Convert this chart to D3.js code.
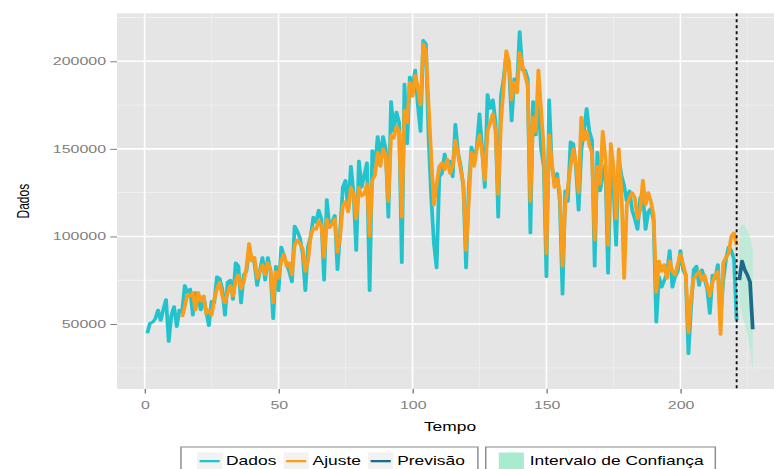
<!DOCTYPE html>
<html>
<head>
<meta charset="utf-8">
<script src="https://cdn.jsdelivr.net/npm/d3@7"></script>
<style>
  body { margin: 0; background: #fff; }
  svg { display: block; }
</style>
</head>
<body>
<script>
// observed series (Tempo 1..221)
const dados = [
  44700, 50500, 51000, 53000, 58000, 52000, 58500, 64000, 40000, 55000,
  60000, 48500, 58000, 57000, 72000, 68000, 70000, 55000, 68000, 65000,
  58000, 66000, 57000, 49000, 63000, 62000, 77000, 76000, 70000, 55000,
  74000, 75000, 64000, 85000, 83000, 62000, 78000, 80000, 92000, 88000,
  85000, 72000, 80000, 88000, 75000, 88000, 80000, 53000, 83000, 69000,
  94000, 89000, 84000, 80000, 74000, 106000, 103000, 99000, 90000, 69000,
  94000, 100000, 111000, 108000, 115000, 110000, 75000, 121000, 105000, 108000,
  112000, 81000, 103000, 128000, 132000, 115000, 140000, 125000, 92000, 143000,
  128000, 135000, 142000, 69000, 149000, 140000, 157000, 145000, 157000, 150000,
  111000, 177000, 160000, 171000, 165000, 85000, 187000, 153000, 191000, 185000,
  195000, 175000, 160000, 212000, 210000, 157000, 122000, 96000, 82000, 134000,
  136000, 147000, 140000, 143000, 134000, 164000, 148000, 140000, 128000, 82000,
  128000, 151000, 145000, 151000, 170000, 150000, 128000, 181000, 173000, 178000,
  165000, 111000, 180000, 190000, 204000, 198000, 166000, 190000, 185000, 217000,
  195000, 195000, 190000, 102000, 177000, 158000, 179000, 150000, 140000, 77000,
  178000, 140000, 132000, 136000, 120000, 67000, 126000, 120000, 154000, 153000,
  140000, 115000, 149000, 160000, 173000, 160000, 155000, 83000, 148000, 126000,
  135000, 141000, 79000, 140000, 130000, 95000, 144000, 135000, 129000, 120000,
  126000, 115000, 110000, 104000, 122000, 124000, 104000, 114000, 116000, 109000,
  51000, 77000, 71000, 75000, 79000, 92000, 71000, 77000, 80000, 92000,
  81000, 78000, 33000, 60000, 81000, 83000, 72000, 81000, 76000, 70000,
  56000, 78000, 76000, 84000, 54000, 75000, 87000, 94000, 92000, 87000,
  52000
];

// fitted values (Tempo 14..221)
const ajusteInicio = 14;
const ajuste = [
  54000, 60000, 67000, 66000, 68000, 58000, 68000,
  63000, 66000, 56000, 58000, 55000, 64000, 70000, 74000, 66000, 62000,
  68000, 72000, 66000, 75000, 78000, 70000, 74000, 82000, 96000, 86000,
  88000, 76000, 80000, 84000, 78000, 85000, 81000, 62000, 80000, 76000,
  86000, 90000, 83000, 85000, 78000, 95000, 98000, 96000, 93000, 80000,
  86000, 100000, 105000, 104000, 109000, 106000, 88000, 110000, 105000, 107000,
  110000, 91000, 100000, 118000, 120000, 114000, 128000, 124000, 110000, 128000,
  123000, 124000, 130000, 100000, 132000, 135000, 148000, 140000, 150000, 146000,
  120000, 158000, 156000, 163000, 160000, 111000, 172000, 165000, 188000, 180000,
  192000, 185000, 175000, 210000, 206000, 175000, 145000, 118000, 130000, 140000,
  142000, 138000, 144000, 136000, 140000, 155000, 147000, 138000, 130000, 92000,
  120000, 148000, 140000, 150000, 158000, 148000, 132000, 160000, 165000, 170000,
  160000, 124000, 165000, 185000, 206000, 200000, 178000, 188000, 182000, 205000,
  198000, 192000, 186000, 120000, 168000, 160000, 195000, 172000, 150000, 90000,
  158000, 142000, 128000, 133000, 125000, 83000, 118000, 128000, 140000, 150000,
  142000, 125000, 168000, 155000, 160000, 152000, 148000, 98000, 140000, 130000,
  160000, 145000, 95000, 153000, 140000, 110000, 150000, 125000, 76000, 118000,
  122000, 125000, 122000, 110000, 115000, 132000, 118000, 125000, 120000, 112000,
  68000, 86000, 80000, 84000, 76000, 86000, 80000, 78000, 84000, 90000,
  84000, 78000, 45000, 65000, 76000, 78000, 80000, 75000, 78000, 72000,
  66000, 74000, 78000, 80000, 44000, 85000, 88000, 90000, 100000, 102000,
  95000
];

// forecast and confidence band
const prevTempo = [222, 223, 224, 225, 226, 227];
const previsao  = [75000, 86000, 81000, 78000, 74000, 47000];
const icInf     = [62000, 56000, 50000, 44000, 36000, 23000];
const icSup     = [104000, 107000, 106000, 104000, 100000, 93000];
const corte = 221;

const xTicks = [0, 50, 100, 150, 200];
const xMinor = [25, 75, 125, 175, 225];
const yTicks = [50000, 100000, 150000, 200000];
const yMinor = [25000, 75000, 125000, 175000, 225000];

const series = [
  { nome: "Dados", cor: "#22c3cc" },
  { nome: "Ajuste", cor: "#f89d1c" },
  { nome: "Previsão", cor: "#1d6b8a" }
];
const corIC = "#a8ebcf";

// the picture is horizontally stretched, so draw in narrow units and scale
const W = 774, H = 469, SX = 1.45;
const font = "'Liberation Sans', Arial, Helvetica, sans-serif";
const panel = { left: 80.7, right: 540, top: 13.3, bottom: 389 };

const svg = d3.select("body").append("svg")
  .attr("width", W).attr("height", H);
const root = svg.append("g").attr("transform", `scale(${SX},1)`);

const x = d3.scaleLinear().domain([-10.3, 238.3]).range([panel.left, panel.right]);
const y = d3.scaleLinear().domain([12900, 227400]).range([panel.bottom, panel.top]);

root.append("clipPath").attr("id", "clip")
  .append("rect")
  .attr("x", panel.left).attr("y", panel.top)
  .attr("width", panel.right - panel.left)
  .attr("height", panel.bottom - panel.top);

// panel background
root.append("rect")
  .attr("x", panel.left).attr("y", panel.top)
  .attr("width", panel.right - panel.left)
  .attr("height", panel.bottom - panel.top)
  .attr("fill", "#e5e5e5");

const grid = root.append("g").attr("clip-path", "url(#clip)");
grid.selectAll(".xminor").data(xMinor).join("line")
  .attr("x1", d => x(d)).attr("x2", d => x(d))
  .attr("y1", panel.top).attr("y2", panel.bottom)
  .attr("stroke", "#f2f2f2").attr("stroke-width", 0.5);
grid.selectAll(".yminor").data(yMinor).join("line")
  .attr("x1", panel.left).attr("x2", panel.right)
  .attr("y1", d => y(d)).attr("y2", d => y(d))
  .attr("stroke", "#f2f2f2").attr("stroke-width", 0.8);
grid.selectAll(".xmajor").data(xTicks).join("line")
  .attr("x1", d => x(d)).attr("x2", d => x(d))
  .attr("y1", panel.top).attr("y2", panel.bottom)
  .attr("stroke", "#fff").attr("stroke-width", 1.1);
grid.selectAll(".ymajor").data(yTicks).join("line")
  .attr("x1", panel.left).attr("x2", panel.right)
  .attr("y1", d => y(d)).attr("y2", d => y(d))
  .attr("stroke", "#fff").attr("stroke-width", 1.6);

const plot = root.append("g").attr("clip-path", "url(#clip)");

// confidence band
const icData = prevTempo.map((t, i) => ({ t, lo: icInf[i], hi: icSup[i] }));
plot.append("path")
  .datum(icData)
  .attr("fill", corIC).attr("opacity", 0.6)
  .attr("d", d3.area().x(d => x(d.t)).y0(d => y(d.lo)).y1(d => y(d.hi)));

const line = d3.line().x(d => x(d.t)).y(d => y(d.v));
const dadosPts = dados.map((v, i) => ({ t: i + 1, v }));
const ajustePts = ajuste.map((v, i) => ({ t: i + ajusteInicio, v }));
const prevPts = previsao.map((v, i) => ({ t: prevTempo[i], v }));

[dadosPts, ajustePts, prevPts].forEach((pts, i) => {
  plot.append("path")
    .datum(pts)
    .attr("fill", "none")
    .attr("stroke", series[i].cor)
    .attr("stroke-width", 2.6)
    .attr("stroke-linejoin", "round")
    .attr("d", line);
});

// dashed vertical line at end of data
plot.append("line")
  .attr("x1", x(corte)).attr("x2", x(corte))
  .attr("y1", panel.top).attr("y2", panel.bottom)
  .attr("stroke", "#111").attr("stroke-width", 1.3)
  .attr("stroke-dasharray", "3,3");

// axes
const yAxis = root.append("g")
  .attr("transform", `translate(${panel.left},0)`)
  .call(d3.axisLeft(y).tickValues(yTicks).tickSize(4.6).tickPadding(3).tickFormat(d3.format("d")));
yAxis.select(".domain").remove();

const xAxis = root.append("g")
  .attr("transform", `translate(0,${panel.bottom})`)
  .call(d3.axisBottom(x).tickValues(xTicks).tickSize(4.5).tickPadding(8));
xAxis.select(".domain").remove();

[xAxis, yAxis].forEach(g => {
  g.selectAll("line").attr("stroke", "#7f7f7f");
  g.selectAll("text").attr("fill", "#7f7f7f")
    .style("font-family", font).style("font-size", "11px");
});

// axis titles
root.append("text")
  .attr("x", (panel.left + panel.right) / 2).attr("y", 431)
  .attr("text-anchor", "middle")
  .style("font-family", font).style("font-size", "12px")
  .text("Tempo");

root.append("text")
  .attr("transform", `translate(15.5,${(panel.top + panel.bottom) / 2}) rotate(-90)`)
  .attr("dy", "0.35em")
  .attr("text-anchor", "middle")
  .style("font-family", font).style("font-size", "12px")
  .text("Dados");

// legend
const key = 17.3, legTop = 447;
const leg1 = root.append("g");
const box1 = leg1.append("rect")
  .attr("y", legTop).attr("height", 40)
  .attr("fill", "#fff").attr("stroke", "#8a8a8a").attr("stroke-width", 1);
let cx = 135.9;
series.forEach(s => {
  leg1.append("rect").attr("x", cx).attr("y", legTop + 5.5)
    .attr("width", key).attr("height", key).attr("fill", "#f2f2f2");
  leg1.append("line")
    .attr("x1", cx + 1.7).attr("x2", cx + key - 1.7)
    .attr("y1", legTop + 5.5 + key / 2).attr("y2", legTop + 5.5 + key / 2)
    .attr("stroke", s.cor).attr("stroke-width", 2.3);
  const t = leg1.append("text")
    .attr("x", cx + key + 2.7).attr("y", legTop + 5.5 + key / 2)
    .attr("dy", "0.35em")
    .style("font-family", font).style("font-size", "12px")
    .text(s.nome);
  cx += key + 2.7 + t.node().getComputedTextLength() + 5;
});
box1.attr("x", 124.8).attr("width", cx + 4 - 124.8);

const leg2 = root.append("g");
const box2 = leg2.append("rect")
  .attr("x", 335).attr("y", legTop).attr("height", 40)
  .attr("fill", "#fff").attr("stroke", "#8a8a8a").attr("stroke-width", 1);
leg2.append("rect").attr("x", 344).attr("y", legTop + 5.5)
  .attr("width", key).attr("height", key).attr("fill", corIC);
const t2 = leg2.append("text")
  .attr("x", 344 + key + 4).attr("y", legTop + 5.5 + key / 2)
  .attr("dy", "0.35em")
  .style("font-family", font).style("font-size", "12px")
  .text("Intervalo de Confiança");
box2.attr("width", 344 + key + 4 + t2.node().getComputedTextLength() + 8 - 335);
</script>
</body>
</html>
